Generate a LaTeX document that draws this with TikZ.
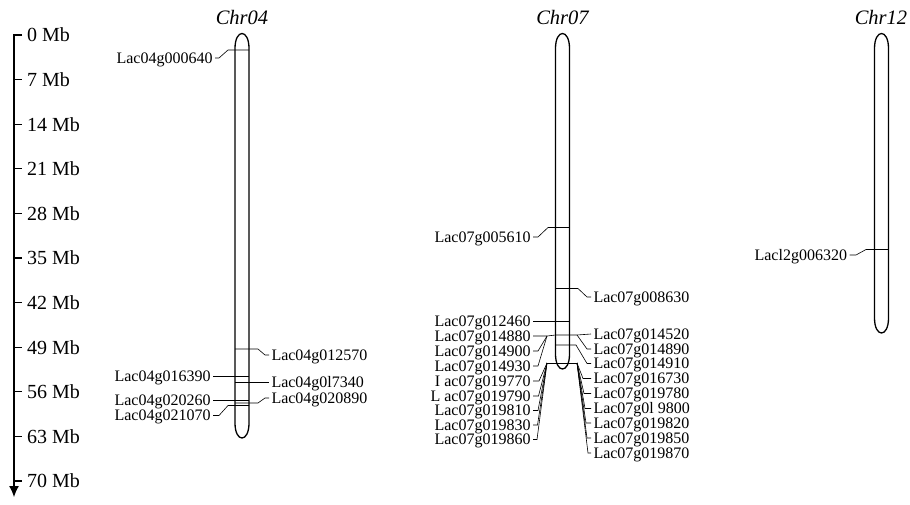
\documentclass[tikz,border=0pt]{standalone}
\usepackage{fontspec}
\setmainfont{Liberation Serif}
\usetikzlibrary{arrows.meta,calc}

% one chromosome: centre x, top y, bottom y (y grows downwards)
\newcommand\drawchrom[3]{%
  \draw[chrom] (#1-7,#2+15) -- (#1-7,#3-15)
    .. controls (#1-7,#3+5) and (#1+7,#3+5) .. (#1+7,#3-15)
    -- (#1+7,#2+15)
    .. controls (#1+7,#2-5) and (#1-7,#2-5) .. (#1-7,#2+15) -- cycle;}

\tikzset{
  chrom/.style={line width=1.3pt},
  markline/.style={line width=0.6pt},
  gene/.style={font=\fontsize{16}{17}\selectfont, inner sep=0pt,
    outer xsep=2.5pt, text height=10.6pt, text depth=0pt},
  genel/.style={gene, anchor=east},
  gener/.style={gene, anchor=west},
  chrtitle/.style={font=\itshape\fontsize{20.5}{22}\selectfont, inner sep=0pt, anchor=base},
  scalelab/.style={font=\fontsize{20}{22}\selectfont, inner sep=0pt, anchor=west,
    text height=13.6pt, text depth=0pt},
}

\begin{document}
\begin{tikzpicture}[x=1pt,y=-1pt]
\useasboundingbox (0,0) rectangle (910,504);

% ---- scale axis ----
\coordinate (axtop) at (14,35);
\coordinate (axend) at (14,497);
\draw[line width=1.2pt,-{Latex[length=11pt,width=10pt]}] (22,35) -- (axtop) -- (axend);
\foreach \k [count=\i from 0] in {0,7,14,21,28,35,42,49,56,63,70}{
  \pgfmathsetmacro\ty{35+\i*44.6}
  \draw[line width=1.2pt] (14,\ty) -- (22,\ty);
  \node[scalelab] (ax\i) at (27,\ty) {\k{} Mb};
}

% ---- chromosomes ----
\drawchrom{242}{33.5}{438}
\drawchrom{562.5}{33.5}{369}
\drawchrom{881.5}{33.5}{333}

\node[chrtitle] (t04) at (242,24) {Chr04};
\node[chrtitle] (t07) at (562.5,24) {Chr07};
\node[chrtitle] (t12) at (881,24) {Chr12};

% ---- Chr04 genes ----
\node[genel] (L04a) at (215,58) {Lac04g000640};
\node[gener] (L04b) at (269,355) {Lac04g012570};
\node[genel] (L04c) at (213,376.5) {Lac04g016390};
\node[gener] (L04d) at (269,382) {Lac04g0l7340};
\node[genel] (L04e) at (213,400.5) {Lac04g020260};
\node[gener] (L04f) at (269,398) {Lac04g020890};
\node[genel] (L04g) at (213,415.5) {Lac04g021070};

\draw[markline] (249,50) -- (228,50) -- (219,58) -- (L04a.east);
\draw[markline] (235,349) -- (258,349) -- (265,355) -- (L04b.west);
\draw[markline] (249,376.5) -- (L04c.east);
\draw[markline] (235,382) -- (L04d.west);
\draw[markline] (249,400.5) -- (L04e.east);
\draw[markline] (235,403) -- (258,403) -- (265,398) -- (L04f.west);
\draw[markline] (249,405.5) -- (228,405.5) -- (219,415.5) -- (L04g.east);

% ---- Chr07 genes ----
\node[genel] (L07a) at (533,237) {Lac07g005610};
\node[gener] (L07b) at (591,297) {Lac07g008630};
\node[genel] (L07c) at (533,321) {Lac07g012460};
\node[genel] (L07d) at (533,336) {Lac07g014880};
\node[gener] (L07e) at (591,334) {Lac07g014520};
\node[genel] (L07f) at (533,351) {Lac07g014900};
\node[genel] (L07g) at (533,366) {Lac07g014930};
\node[gener] (L07h) at (591,349) {Lac07g014890};
\node[gener] (L07i) at (591,363.5) {Lac07g014910};
\node[gener] (L07j) at (591,378.5) {Lac07g016730};
\node[gener] (L07k) at (591,393.5) {Lac07g019780};
\node[gener] (L07l) at (591,408.5) {Lac07g0l 9800};
\node[gener] (L07m) at (591,423) {Lac07g019820};
\node[gener] (L07n) at (591,438) {Lac07g019850};
\node[gener] (L07o) at (591,453) {Lac07g019870};
\node[genel] (L07p) at (533,381) {I ac07g019770};
\node[genel] (L07q) at (533,396) {L ac07g019790};
\node[genel] (L07r) at (533,410.5) {Lac07g019810};
\node[genel] (L07s) at (533,425) {Lac07g019830};
\node[genel] (L07t) at (533,439.5) {Lac07g019860};

\coordinate (f07l) at (547,363);
\coordinate (f07r) at (577,363);

\draw[markline] (569.5,227.5) -- (548,227.5) -- (538,237) -- (L07a.east);
\draw[markline] (555.5,288.5) -- (578,288.5) -- (587,297) -- (L07b.west);
\draw[markline] (569.5,321) -- (L07c.east);
\draw[markline] (L07d.east) -- (547,336) -- (555.5,335) -- (577,335) -- (L07e.west);
\draw[markline] (547,336) -- (538,351) -- (L07f.east);
\draw[markline] (547,336) -- (538,366) -- (L07g.east);
\draw[markline] (577,335) -- (587,349) -- (L07h.west);
\draw[markline] (555.5,345) -- (576,345) -- (587,363.5) -- (L07i.west);
\draw[markline] (f07l) -- (f07r);
\foreach \n/\dx in {j/583,k/584,l/585,m/586,n/587,o/588}
  \draw[markline] (f07r) -- (\dx,0 |- L07\n.west) -- (L07\n.west);
\foreach \n/\dx in {p/539,q/538.5,r/538,s/537.5,t/537}
  \draw[markline] (f07l) -- (\dx,0 |- L07\n.east) -- (L07\n.east);

% ---- Chr12 gene ----
\node[genel] (L12a) at (849.5,255) {Lacl2g006320};
\draw[markline] (888.5,249.5) -- (866,249.5) -- (856,255) -- (L12a.east);
\end{tikzpicture}
\end{document}
